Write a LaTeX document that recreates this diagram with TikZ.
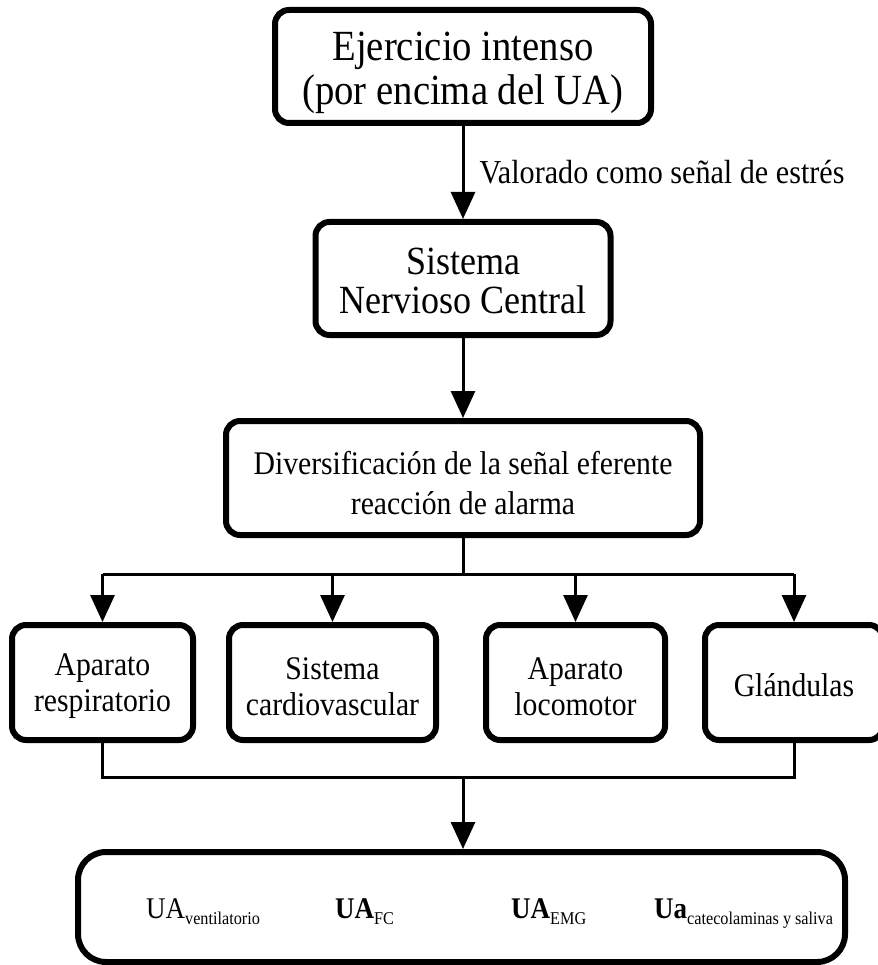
\documentclass[tikz,border=0pt]{standalone}
\usepackage{fontspec}
\setmainfont{Liberation Serif}[FakeStretch=0.9]
\usetikzlibrary{arrows.meta}
\tikzset{
  box/.style={draw=black, line width=6pt, rounded corners=14pt, inner sep=0pt},
  txt/.style={align=center, inner sep=0pt},
  conn/.style={draw=black, line width=3pt},
  arr/.style={conn, -{Triangle[length=27pt,width=24pt]}},
  bigtxt/.style={font=\fontsize{43}{44}\selectfont},
  midtxt/.style={font=\fontsize{40}{39}\selectfont},
  dtxt/.style={font=\fontsize{33}{40}\selectfont},
  smalltxt/.style={font=\fontsize{33}{36}\selectfont},
  uatxt/.style={anchor=base west, inner sep=0pt},
}
\newcommand{\uabig}{\fontsize{30}{30}\selectfont}
\newcommand{\uasub}[1]{\raisebox{-6pt}{\fontsize{18}{18}\selectfont\mdseries #1}}
\begin{document}
\begin{tikzpicture}[x=1pt,y=-1pt]
\useasboundingbox (0,0) rectangle (877,965);
% boxes
\node[box, minimum width=376pt, minimum height=113pt] (b1) at (463,66.5) {};
\node[box, minimum width=295pt, minimum height=113pt] (b2) at (463,278.5) {};
\node[box, minimum width=474pt, minimum height=114pt] (b3) at (463,478) {};
\node[box, minimum width=181pt, minimum height=115pt] (r1) at (102.5,682.5) {};
\node[box, minimum width=207pt, minimum height=115pt] (r2) at (332.5,682.5) {};
\node[box, minimum width=179pt, minimum height=115pt] (r3) at (575.5,682.5) {};
\node[box, minimum width=178pt, minimum height=115pt] (r4) at (794,682.5) {};
\node[box, rounded corners=28pt, minimum width=767pt, minimum height=110pt] (b5) at (461.5,907) {};
% box texts
\node[txt, bigtxt] (t1) at ([yshift=-6pt]b1.center) {Ejercicio intenso\\(por encima del UA)};
\node[txt, midtxt] (t2) at ([yshift=-2pt]b2.center) {Sistema\\Nervioso Central};
\node[txt, dtxt] (t3) at ([yshift=-5pt]b3.center) {Diversificación de la señal eferente\\reacción de alarma};
\node[txt, smalltxt] (s1) at ([yshift=-4pt]r1.center) {Aparato\\respiratorio};
\node[txt, smalltxt] (s2) at ([yshift=-4pt]r2.center) {Sistema\\cardiovascular};
\node[txt, smalltxt] (s3) at ([yshift=-4pt]r3.center) {Aparato\\locomotor};
\node[txt, smalltxt] (s4) at ([yshift=-3pt]r4.center) {Glándulas};
% bottom texts
\node[uatxt] (u1) at (146,918) {\uabig UA\uasub{ventilatorio}};
\node[uatxt] (u2) at (335,918) {\uabig\bfseries UA\uasub{FC}};
\node[uatxt] (u3) at (511,918) {\uabig\bfseries UA\uasub{EMG}};
\node[uatxt] (u4) at (654,918) {\uabig\bfseries Ua\uasub{catecolaminas y saliva}};
% connectors
\draw[arr] (b1.south) -- node[right=15pt, pos=0.5, inner sep=0pt, font=\fontsize{33.5}{34}\selectfont] (lab) {Valorado como señal de estrés} (b2.north);
\draw[arr] (b2.south) -- (b3.north);
\coordinate (j1) at (463,574);
\coordinate (j2) at (463,777);
\draw[conn] (b3.south) -- (j1);
\draw[conn] (r1.north |- j1) -- (r4.north |- j1);
\draw[arr] (r1.north |- j1) -- (r1.north);
\draw[arr] (r2.north |- j1) -- (r2.north);
\draw[arr] (r3.north |- j1) -- (r3.north);
\draw[arr] (r4.north |- j1) -- (r4.north);
\draw[conn] (r1.south) -- (r1.south |- j2) -- (r4.south |- j2) -- (r4.south);
\draw[arr] (j2) -- (j2 |- b5.north);
\end{tikzpicture}
\end{document}
